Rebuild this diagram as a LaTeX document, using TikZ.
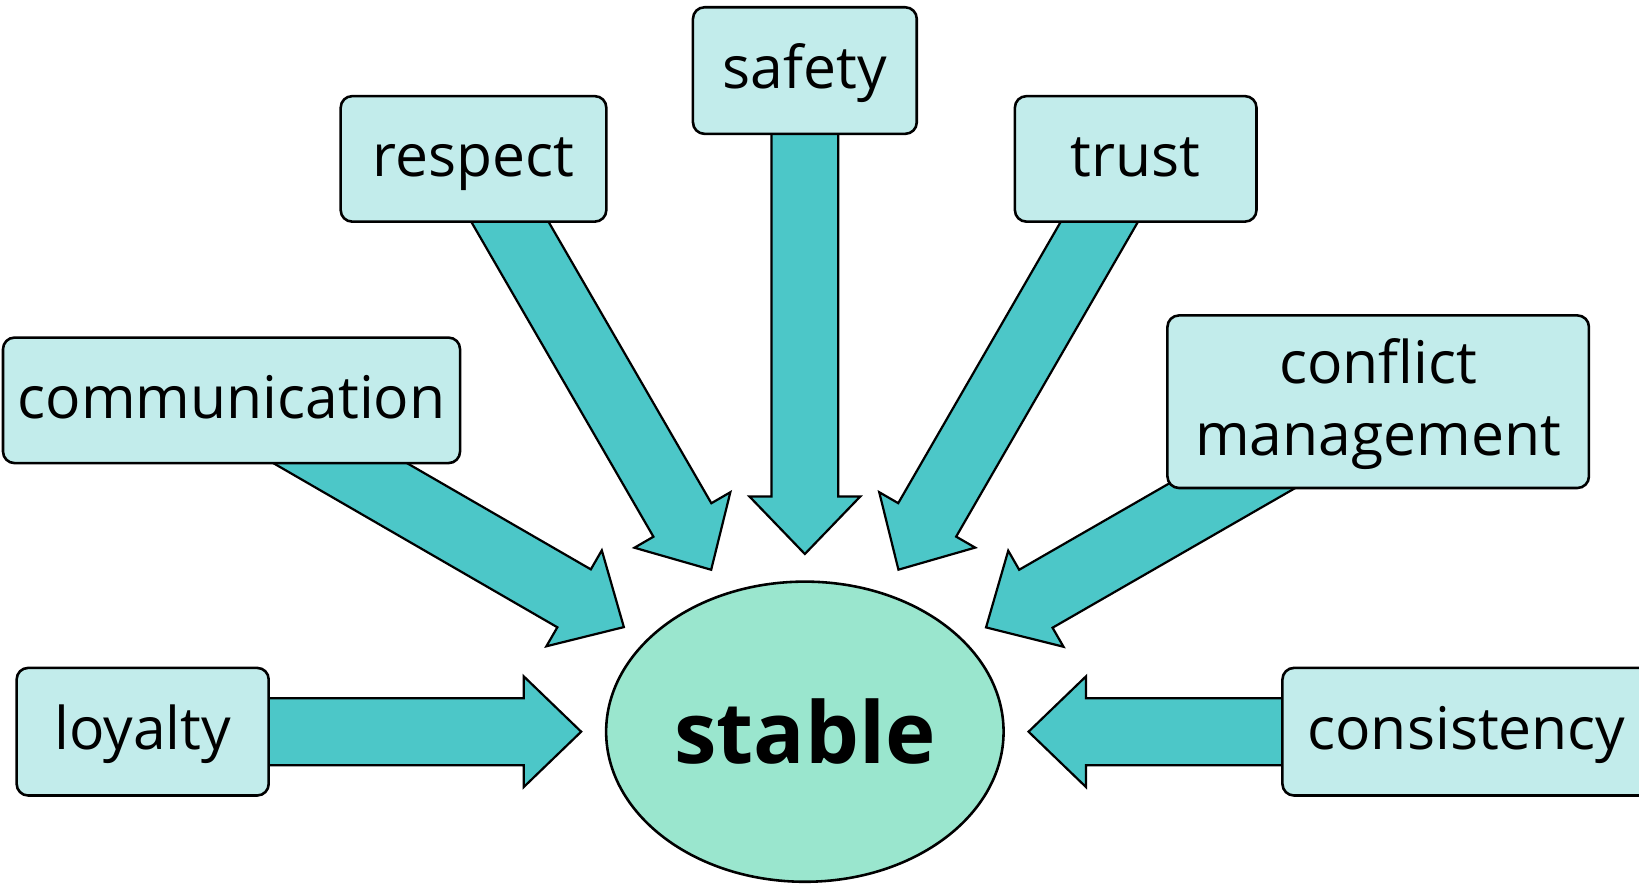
\documentclass[tikz,border=0pt]{standalone}
\usepackage{fontspec}
\setmainfont{Open Sans}
\usetikzlibrary{calc,shapes.geometric,backgrounds}
\definecolor{boxfill}{HTML}{C2ECEB}
\definecolor{arrfill}{HTML}{4CC7C8}
\definecolor{ellfill}{HTML}{9AE6CE}
\tikzset{
  lblbox/.style={draw=black, line width=0.7pt, fill=boxfill, rounded corners=0.11cm,
    inner sep=0pt, align=center, font=\fontsize{16}{19.5}\selectfont},
  oneline/.style={text height=0.346cm, text depth=0pt},
  fatarr/.style={draw=black, line width=0.6pt, fill=arrfill, line join=miter},
  centreell/.style={draw=black, line width=0.7pt, fill=ellfill, ellipse, inner sep=0pt,
    font=\fontsize{23.2}{28}\bfseries\selectfont}
}
% #1 source node, #2 target node, #3 distance of tip from target centre
\newcommand\fatarrow[3]{%
  \draw[fatarr] let \p1=(#1.center), \p2=(#2.center),
    \n1={atan2(\y1-\y2,\x1-\x2)} in
    ($(\p2)+(\n1:#3)$)
    -- ($(\p2)+(\n1:#3+55)+(\n1+90:53)$)
    -- ($(\p2)+(\n1:#3+55)+(\n1+90:32)$)
    -- ($(\p1)+(\n1+90:32)$)
    -- ($(\p1)+(\n1-90:32)$)
    -- ($(\p2)+(\n1:#3+55)+(\n1-90:32)$)
    -- ($(\p2)+(\n1:#3+55)+(\n1-90:53)$)
    -- cycle;}
\begin{document}
\begin{tikzpicture}[x=0.01cm,y=0.01cm]
\useasboundingbox (0,0) rectangle (1568,-845);
% centre
\node[centreell, minimum width=3.8cm, minimum height=2.87cm] (stable) at (770,-700) {stable};
% boxes
\node[lblbox, oneline, minimum width=2.14cm, minimum height=1.21cm] (safety) at (770,-67.5) {safety};
\node[lblbox, oneline, minimum width=2.54cm, minimum height=1.20cm] (respect) at (453,-152) {respect};
\node[lblbox, oneline, minimum width=2.31cm, minimum height=1.20cm] (trust) at (1086.5,-152) {trust};
\node[lblbox, oneline, minimum width=4.37cm, minimum height=1.20cm] (communication) at (221.5,-383) {communication};
\node[lblbox, text height=1.02cm, text depth=0pt, minimum width=4.03cm, minimum height=1.65cm] (conflict) at (1318.5,-384.3) {conflict\\management};
\node[lblbox, oneline, minimum width=2.41cm, minimum height=1.22cm] (loyalty) at (136.5,-700) {loyalty};
\node[lblbox, oneline, minimum width=3.52cm, minimum height=1.22cm] (consistency) at (1403,-700) {consistency};
% arrows, behind the boxes
\begin{scope}[on background layer]
\fatarrow{safety}{stable}{170}
\fatarrow{respect}{stable}{179}
\fatarrow{trust}{stable}{179}
\fatarrow{communication}{stable}{200}
\fatarrow{conflict}{stable}{200}
\fatarrow{loyalty}{stable}{214}
\fatarrow{consistency}{stable}{214}
\end{scope}
\end{tikzpicture}
\end{document}
